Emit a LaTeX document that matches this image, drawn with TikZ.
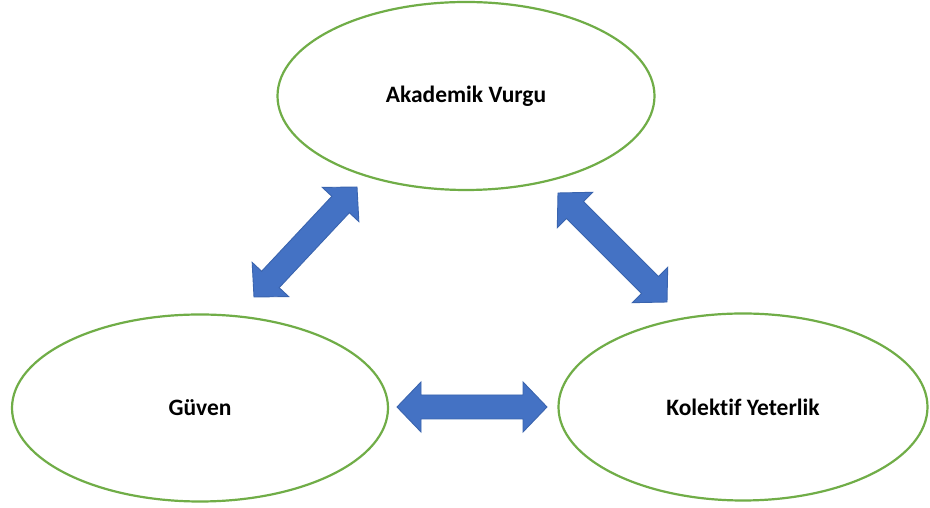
\documentclass[tikz,border=0pt]{standalone}
\usepackage{fontspec}
\setmainfont[Ligatures=NoCommon]{Carlito}
\usetikzlibrary{shapes.geometric,calc}
\definecolor{ellgreen}{HTML}{70AD47}
\definecolor{arrfill}{HTML}{4472C4}
\definecolor{arrline}{HTML}{3A64AE}
\tikzset{
  oval/.style={ellipse, draw=ellgreen, line width=2.2pt, inner sep=0pt, fill=white,
    font=\bfseries\fontsize{23.5}{27}\selectfont},
  blockarrow/.style={fill=arrfill, draw=arrline, line width=0.9pt, line join=miter}
}
\newcommand{\dblarrow}[2]{%
  \path ($(#1)!24pt!(#2)$) coordinate (hA) ($(#2)!24pt!(#1)$) coordinate (hB);
  \draw[blockarrow] (#1) -- ($(hA)!25pt!90:(#2)$) -- ($(hA)!12pt!90:(#2)$)
    -- ($(hB)!12pt!-90:(#1)$) -- ($(hB)!25pt!-90:(#1)$) -- (#2)
    -- ($(hB)!25pt!90:(#1)$) -- ($(hB)!12pt!90:(#1)$)
    -- ($(hA)!12pt!-90:(#2)$) -- ($(hA)!25pt!-90:(#2)$) -- cycle;
}
\begin{document}
\begin{tikzpicture}[x=1pt,y=1pt]
\useasboundingbox (0,0) rectangle (930,508);
\fill[white] (0,0) rectangle (930,508);
\node[oval, minimum width=377pt, minimum height=188pt] (akad) at (466,412) {Akademik Vurgu};
\node[oval, minimum width=376pt, minimum height=187pt] (guven) at (200,100) {Güven};
\node[oval, minimum width=369pt, minimum height=187pt] (kolek) at (743,101) {Kolektif Yeterlik};
\coordinate (l1) at (254,211);
\coordinate (l2) at (357,321);
\coordinate (r1) at (558,315);
\coordinate (r2) at (667,206);
\coordinate (h1) at (397,101);
\coordinate (h2) at (547,101);
\dblarrow{l1}{l2}
\dblarrow{r1}{r2}
\dblarrow{h1}{h2}
\end{tikzpicture}
\end{document}
